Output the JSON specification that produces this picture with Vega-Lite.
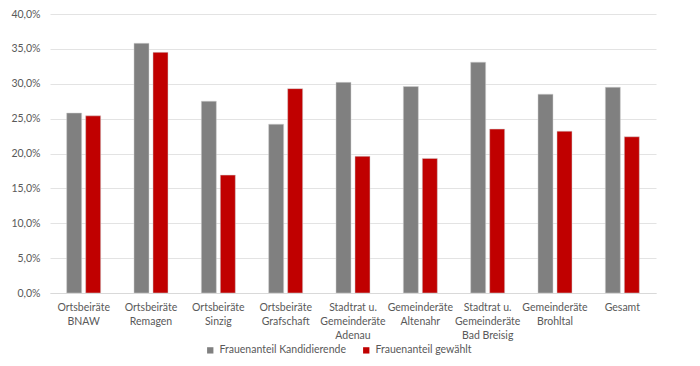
{
  "$schema": "https://vega.github.io/schema/vega-lite/v6.json",
  "width": 606,
  "height": 279,
  "autosize": {"type": "none"},
  "padding": {"left": 50, "top": 14, "right": 44, "bottom": 73},
  "background": "white",
  "config": {
    "font": "Lato",
    "view": {"stroke": null},
    "axis": {"labelColor": "#595959", "labelFont": "Lato", "labelFontSize": 10.5}
  },
  "data": {
    "values": [
      {"cat": "Ortsbeiräte\nBNAW", "series": "Frauenanteil Kandidierende", "value": 25.8},
      {"cat": "Ortsbeiräte\nBNAW", "series": "Frauenanteil gewählt", "value": 25.4},
      {"cat": "Ortsbeiräte\nRemagen", "series": "Frauenanteil Kandidierende", "value": 35.8},
      {"cat": "Ortsbeiräte\nRemagen", "series": "Frauenanteil gewählt", "value": 34.5},
      {"cat": "Ortsbeiräte\nSinzig", "series": "Frauenanteil Kandidierende", "value": 27.5},
      {"cat": "Ortsbeiräte\nSinzig", "series": "Frauenanteil gewählt", "value": 16.9},
      {"cat": "Ortsbeiräte\nGrafschaft", "series": "Frauenanteil Kandidierende", "value": 24.2},
      {"cat": "Ortsbeiräte\nGrafschaft", "series": "Frauenanteil gewählt", "value": 29.3},
      {"cat": "Stadtrat u.\nGemeinderäte\nAdenau", "series": "Frauenanteil Kandidierende", "value": 30.2},
      {"cat": "Stadtrat u.\nGemeinderäte\nAdenau", "series": "Frauenanteil gewählt", "value": 19.6},
      {"cat": "Gemeinderäte\nAltenahr", "series": "Frauenanteil Kandidierende", "value": 29.6},
      {"cat": "Gemeinderäte\nAltenahr", "series": "Frauenanteil gewählt", "value": 19.3},
      {"cat": "Stadtrat u.\nGemeinderäte\nBad Breisig", "series": "Frauenanteil Kandidierende", "value": 33.1},
      {"cat": "Stadtrat u.\nGemeinderäte\nBad Breisig", "series": "Frauenanteil gewählt", "value": 23.5},
      {"cat": "Gemeinderäte\nBrohltal", "series": "Frauenanteil Kandidierende", "value": 28.5},
      {"cat": "Gemeinderäte\nBrohltal", "series": "Frauenanteil gewählt", "value": 23.2},
      {"cat": "Gesamt", "series": "Frauenanteil Kandidierende", "value": 29.5},
      {"cat": "Gesamt", "series": "Frauenanteil gewählt", "value": 22.4}
    ]
  },
  "mark": {"type": "bar", "stroke": "#d0d0d0", "strokeWidth": 0.5},
  "encoding": {
    "x": {
      "field": "cat",
      "type": "nominal",
      "sort": null,
      "title": null,
      "scale": {"paddingInner": 0.495, "paddingOuter": 0.2475},
      "axis": {
        "labelAngle": 0,
        "labelExpr": "split(datum.label, '\\n')",
        "labelLineHeight": 14,
        "labelPadding": 9,
        "ticks": false,
        "domainColor": "#d9d9d9",
        "labelBaseline": "top"
      }
    },
    "xOffset": {
      "field": "series",
      "type": "nominal",
      "sort": ["Frauenanteil Kandidierende", "Frauenanteil gewählt"],
      "scale": {"paddingInner": 0.21, "paddingOuter": 0}
    },
    "y": {
      "field": "value",
      "type": "quantitative",
      "title": null,
      "scale": {"domain": [0, 40], "nice": false},
      "axis": {
        "values": [0, 5, 10, 15, 20, 25, 30, 35, 40],
        "labelExpr": "replace(format(datum.value, '.1f'), '.', ',') + '%'",
        "ticks": false,
        "domain": false,
        "gridColor": "#e3e3e3",
        "labelPadding": 10
      }
    },
    "color": {
      "field": "series",
      "type": "nominal",
      "sort": ["Frauenanteil Kandidierende", "Frauenanteil gewählt"],
      "scale": {"domain": ["Frauenanteil Kandidierende", "Frauenanteil gewählt"], "range": ["#808080", "#c00000"]},
      "legend": {
        "title": null,
        "orient": "none",
        "direction": "horizontal",
        "legendX": 155,
        "legendY": 331,
        "symbolType": "square",
        "symbolSize": 40,
        "symbolStrokeWidth": 0,
        "labelColor": "#595959",
        "labelFontSize": 10.5,
        "labelFont": "Lato",
        "columnPadding": 15,
        "labelOffset": 4
      }
    }
  }
}
